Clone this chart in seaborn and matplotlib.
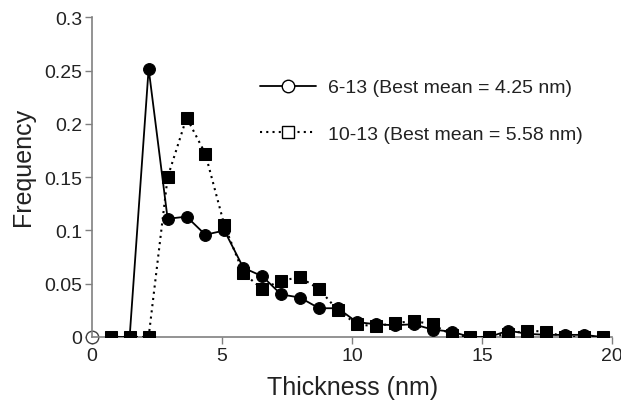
import matplotlib
matplotlib.use("Agg")
import matplotlib.pyplot as plt
from matplotlib.lines import Line2D
import seaborn as sns

# thickness bins (nm) and frequencies
thickness = [0.0, 0.73, 1.45, 2.18, 2.91, 3.64, 4.36, 5.09, 5.82, 6.55,
             7.27, 8.0, 8.73, 9.45, 10.18, 10.9, 11.64, 12.36, 13.09, 13.82,
             14.55, 15.27, 16.0, 16.73, 17.45, 18.18, 18.9, 19.63]
freq_6_13 = [0.0, 0.0, 0.0, 0.252, 0.111, 0.113, 0.096, 0.100, 0.065, 0.057,
             0.040, 0.037, 0.027, 0.027, 0.014, 0.012, 0.011, 0.012, 0.007, 0.005,
             0.0, 0.0, 0.006, 0.003, 0.002, 0.002, 0.002, 0.0]
freq_10_13 = [None, 0.0, 0.0, 0.0, 0.150, 0.206, 0.172, 0.105, 0.060, 0.045,
              0.053, 0.056, 0.045, 0.025, 0.012, 0.010, 0.013, 0.015, 0.012, 0.002,
              0.0, 0.0, 0.003, 0.006, 0.005, 0.0, 0.0, 0.0]
labels = ['6-13 (Best mean = 4.25 nm)', '10-13 (Best mean = 5.58 nm)']

sns.set_style("white")
plt.rcParams['font.family'] = ['Liberation Sans', 'DejaVu Sans']

fig = plt.figure(figsize=(6.21, 4.06), dpi=100)
ax = fig.add_axes([0.148, 0.1675, 0.838, 0.787])

x2 = [x for x, y in zip(thickness, freq_10_13) if y is not None]
y2 = [y for y in freq_10_13 if y is not None]

sns.lineplot(x=thickness[1:], y=freq_6_13[1:], sort=False, ax=ax, color='black',
             lw=1.3, marker='o', markersize=8.5, markeredgecolor='black',
             markerfacecolor='black', zorder=3)
sns.lineplot(x=x2, y=y2, sort=False, ax=ax, color='black', lw=1.5,
             linestyle=(0, (1, 2)), marker='s', markersize=9,
             markeredgecolor='black', markerfacecolor='black', zorder=4)
# the first point (0, 0) is drawn open, under the axes
ax.plot(thickness[0], freq_6_13[0], marker='o', markersize=9, mfc='white',
        mec='#404040', mew=1, clip_on=False, zorder=2)

ax.set_xlim(0, 20)
ax.set_ylim(0, 0.3)
ax.set_xticks([0, 5, 10, 15, 20])
ax.set_xticklabels(['0', '5', '10', '15', '20'])
ax.set_yticks([0, 0.05, 0.1, 0.15, 0.2, 0.25, 0.3])
ax.set_yticklabels(['0', '0.05', '0.1', '0.15', '0.2', '0.25', '0.3'])
ax.tick_params(axis='both', direction='out', length=5, width=1, color='#808080',
               labelsize=14, labelcolor='#222222', pad=2, bottom=True, left=True)

sns.despine(ax=ax)
for s in ['left', 'bottom']:
    ax.spines[s].set_color('#808080')
    ax.spines[s].set_linewidth(1.2)

ax.set_xlabel('Thickness (nm)', fontsize=18, color='#222222', labelpad=8)
ax.set_ylabel('Frequency', fontsize=18, color='#222222')
ax.yaxis.set_label_coords(-0.11, 0.535)

handles = [
    Line2D([], [], color='black', lw=1.3, marker='o', markersize=9,
           mfc='white', mec='black'),
    Line2D([], [], color='black', lw=1.5, linestyle=(0, (1, 2)), marker='s',
           markersize=9, mfc='white', mec='black'),
]
fig.legend(handles, labels, loc='upper left', bbox_to_anchor=(250 / 621, 1 - 70 / 406),
           frameon=False, fontsize=14, handlelength=2.9, handletextpad=0.6,
           labelspacing=1.5, borderpad=0, labelcolor='#222222')

fig.savefig('out.png', dpi=100)
